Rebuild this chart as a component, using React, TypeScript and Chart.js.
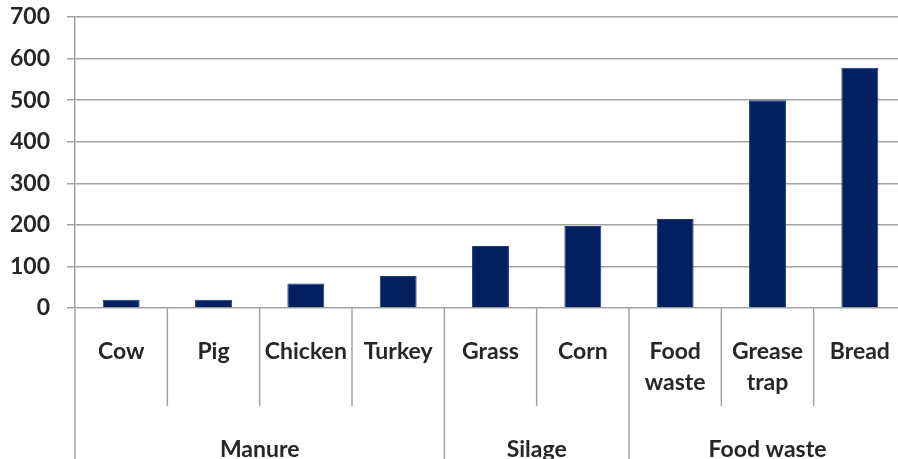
import React, { useEffect, useRef } from "react";
import { Chart, registerables } from "chart.js";

Chart.register(...registerables);

// Feedstock categories (one label line per array entry)
const categoryLines: string[][] = [
  ["Cow"],
  ["Pig"],
  ["Chicken"],
  ["Turkey"],
  ["Grass"],
  ["Corn"],
  ["Food", "waste"],
  ["Grease", "trap"],
  ["Bread"],
];

// Biogas yield per feedstock
const yields: number[] = [20, 20, 59, 77, 149, 197, 214, 500, 578];

// Outer grouping of the categories
const groupNames: string[] = ["Manure", "Silage", "Food waste"];
const groupSizes: number[] = [4, 2, 3];

// Value axis
const yMin = 0;
const yMax = 700;
const yStep = 100;

const FONT = "Lato, 'Open Sans', sans-serif";
const FONT_SIZE = 23;
const TEXT_COLOR = "#262626";
const LINE_COLOR = "#a3a3a3";

const W = 906;
const H = 459;
const PLOT_TOP = 17;
const PLOT_BOTTOM = 308;

// Draws the two-level category axis under the plot
const groupedAxis = {
  id: "groupedAxis",
  afterDraw(chart: any) {
    const { ctx, chartArea, scales } = chart;
    const x = scales.x;
    const n = categoryLines.length;
    const step = (chartArea.right - chartArea.left) / n;
    const base = chartArea.bottom;
    const innerBottom = base + 98;
    const outerBottom = chart.height;

    ctx.save();
    ctx.strokeStyle = LINE_COLOR;
    ctx.lineWidth = 1.5;

    // value axis line continued down through the label rows
    ctx.beginPath();
    ctx.moveTo(chartArea.left, base);
    ctx.lineTo(chartArea.left, outerBottom);
    ctx.stroke();

    // boundaries between categories / groups
    const groupEnds = new Set<number>();
    let acc = 0;
    groupSizes.forEach((s) => {
      acc += s;
      groupEnds.add(acc);
    });
    for (let i = 1; i <= n; i++) {
      const bx = x.getPixelForValue(i - 1) + step / 2;
      const bottom = groupEnds.has(i) ? outerBottom : innerBottom;
      ctx.beginPath();
      ctx.moveTo(bx, base);
      ctx.lineTo(bx, bottom);
      ctx.stroke();
    }

    ctx.fillStyle = TEXT_COLOR;
    ctx.font = `bold ${FONT_SIZE}px ${FONT}`;
    ctx.textAlign = "center";
    ctx.textBaseline = "middle";

    categoryLines.forEach((lines, i) => {
      const cx = x.getPixelForValue(i);
      lines.forEach((t, k) => {
        ctx.fillText(t, cx, base + 44 + k * 31);
      });
    });

    let start = 0;
    groupNames.forEach((name, g) => {
      const size = groupSizes[g];
      const left = x.getPixelForValue(start) - step / 2;
      const right = x.getPixelForValue(start + size - 1) + step / 2;
      ctx.fillText(name, (left + right) / 2, base + 142);
      start += size;
    });

    ctx.restore();
  },
};

export default function App() {
  const canvasRef = useRef<HTMLCanvasElement | null>(null);

  useEffect(() => {
    document.body.style.margin = "0";
    document.body.style.overflow = "hidden";
    const canvas = canvasRef.current;
    if (!canvas) return;

    const chart = new Chart(canvas, {
      type: "bar",
      data: {
        labels: categoryLines.map((l) => l.join(" ")),
        datasets: [
          {
            data: yields,
            backgroundColor: "#002060",
            borderColor: "#1a3a78",
            borderWidth: 1,
            barPercentage: 0.4,
            categoryPercentage: 1,
          },
        ],
      },
      options: {
        responsive: false,
        animation: false,
        devicePixelRatio: 1,
        layout: { padding: { top: PLOT_TOP, bottom: H - PLOT_BOTTOM, left: 0, right: 0 } },
        plugins: {
          legend: { display: false },
          tooltip: { enabled: false },
        },
        scales: {
          x: {
            display: false,
            offset: true,
          },
          y: {
            min: yMin,
            max: yMax,
            afterFit(scale: any) {
              scale.width = 75;
              scale.paddingTop = 0;
              scale.paddingBottom = 0;
            },
            ticks: {
              stepSize: yStep,
              padding: 17,
              color: TEXT_COLOR,
              font: { family: FONT, size: FONT_SIZE, weight: "bold" },
            },
            grid: {
              color: LINE_COLOR,
              lineWidth: 1.5,
              tickLength: 8,
              drawTicks: true,
            },
            border: { display: true, color: LINE_COLOR, width: 1.5 },
          },
        },
      },
      plugins: [groupedAxis],
    });

    return () => chart.destroy();
  }, []);

  return (
    <div style={{ width: 898, height: H, overflow: "hidden", position: "relative" }}>
      <canvas ref={canvasRef} width={W} height={H} style={{ display: "block" }} />
    </div>
  );
}
